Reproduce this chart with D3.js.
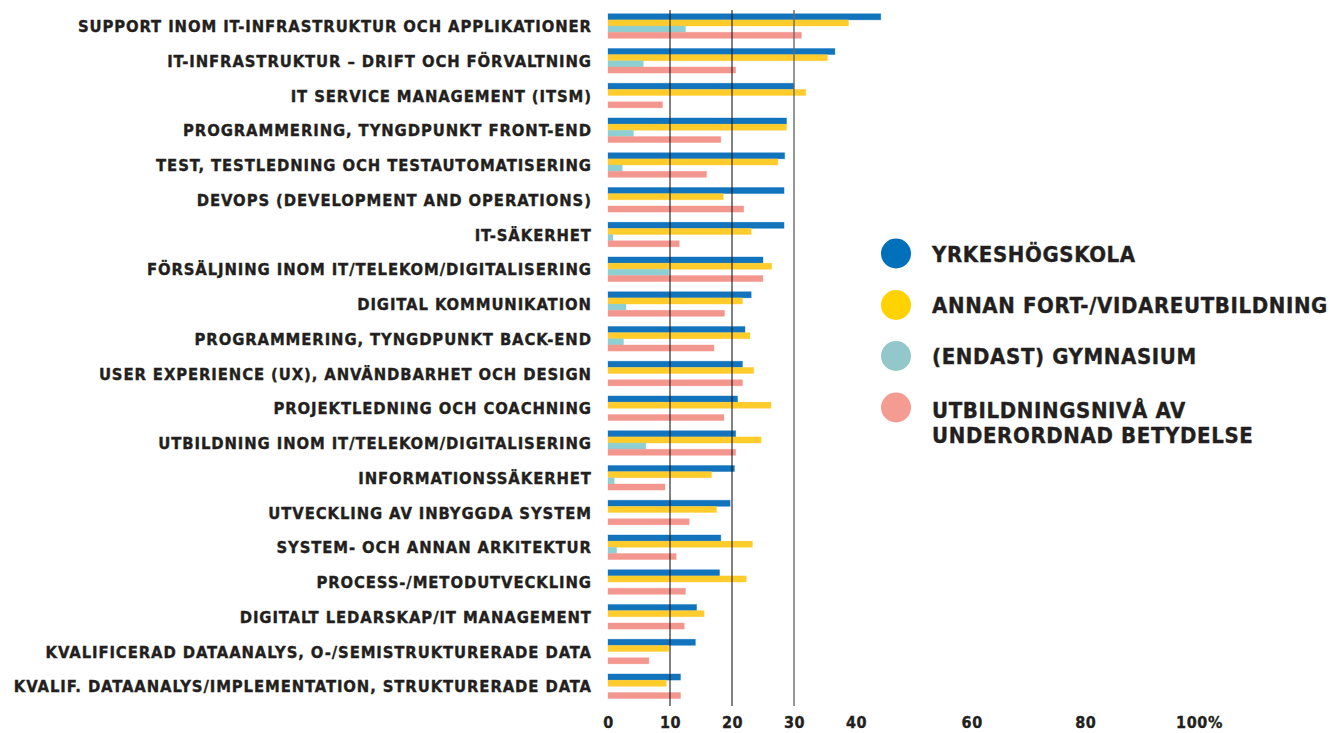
<!DOCTYPE html>
<html>
<head>
<meta charset="utf-8">
<script src="https://cdn.jsdelivr.net/npm/d3@7"></script>
<style>
  html, body { margin: 0; padding: 0; background: #fff; }
  svg { display: block; }
  text { font-family: "DejaVu Sans Condensed", "DejaVu Sans", sans-serif; font-stretch: condensed; font-weight: bold; fill: #231f20; stroke: #231f20; stroke-width: 0.35px; }
</style>
</head>
<body>
<svg id="chart" width="1330" height="733"></svg>
<script>
const categories = [
  "SUPPORT INOM IT-INFRASTRUKTUR OCH APPLIKATIONER",
  "IT-INFRASTRUKTUR – DRIFT OCH FÖRVALTNING",
  "IT SERVICE MANAGEMENT (ITSM)",
  "PROGRAMMERING, TYNGDPUNKT FRONT-END",
  "TEST, TESTLEDNING OCH TESTAUTOMATISERING",
  "DEVOPS (DEVELOPMENT AND OPERATIONS)",
  "IT-SÄKERHET",
  "FÖRSÄLJNING INOM IT/TELEKOM/DIGITALISERING",
  "DIGITAL KOMMUNIKATION",
  "PROGRAMMERING, TYNGDPUNKT BACK-END",
  "USER EXPERIENCE (UX), ANVÄNDBARHET OCH DESIGN",
  "PROJEKTLEDNING OCH COACHNING",
  "UTBILDNING INOM IT/TELEKOM/DIGITALISERING",
  "INFORMATIONSSÄKERHET",
  "UTVECKLING AV INBYGGDA SYSTEM",
  "SYSTEM- OCH ANNAN ARKITEKTUR",
  "PROCESS-/METODUTVECKLING",
  "DIGITALT LEDARSKAP/IT MANAGEMENT",
  "KVALIFICERAD DATAANALYS, O-/SEMISTRUKTURERADE DATA",
  "KVALIF. DATAANALYS/IMPLEMENTATION, STRUKTURERADE DATA"
];

const seriesNames = [
  "YRKESHÖGSKOLA",
  "ANNAN FORT-/VIDAREUTBILDNING",
  "(ENDAST) GYMNASIUM",
  "UTBILDNINGSNIVÅ AV\nUNDERORDNAD BETYDELSE"
];

const yrkeshogskola = [44.0, 36.6, 30.0, 28.8, 28.5, 28.4, 28.4, 25.0, 23.1, 22.1, 21.7, 20.9, 20.6, 20.4, 19.7, 18.2, 18.0, 14.3, 14.1, 11.7];
const annanFortVidare = [38.8, 35.4, 31.9, 28.8, 27.4, 18.6, 23.1, 26.4, 21.7, 22.9, 23.5, 26.3, 24.7, 16.7, 17.5, 23.3, 22.3, 15.5, 9.8, 9.4];
const endastGymnasium = [12.5, 5.7, 0, 4.1, 2.3, 0, 0.8, 9.8, 2.9, 2.5, 0, 0, 6.1, 1.0, 0, 1.4, 0, 0, 0, 0];
const underordnad = [31.2, 20.6, 8.8, 18.2, 15.9, 21.9, 11.5, 25.0, 18.8, 17.1, 21.7, 18.7, 20.6, 9.2, 13.1, 11.0, 12.5, 12.3, 6.6, 11.7];

const tickValues = [0, 10, 20, 30, 40, 60, 80, 100];
const tickLabels = ["0", "10", "20", "30", "40", "60", "80", "100%"];
const gridValues = [10, 20, 30];

const barColors = ["#1174BD", "#FFCC2C", "#8ECFD1", "#F3978E"];
const legendColors = ["#0070BA", "#FFD200", "#92C8CB", "#F49B92"];

const seriesValues = [yrkeshogskola, annanFortVidare, endastGymnasium, underordnad];

const svg = d3.select("#chart");

const x = d3.scaleLinear().domain([0, 44, 100]).range([608, 880.8, 1199]);

const step = 34.75, pInner = 0.29, pOuter = 0.145;
const yStart = 13.7 - pOuter * step;
const y = d3.scaleBand()
  .domain(categories)
  .range([yStart, yStart + categories.length * step])
  .paddingInner(pInner)
  .paddingOuter(pOuter);

const ySub = d3.scaleBand().domain(d3.range(seriesValues.length)).range([0, y.bandwidth()]);

const groups = svg.append("g").selectAll("g")
  .data(categories)
  .join("g")
  .attr("transform", d => `translate(0,${y(d)})`);

groups.selectAll("rect")
  .data((d, i) => seriesValues.map((s, k) => ({ k, v: s[i] })).filter(e => e.v > 0))
  .join("rect")
  .attr("x", x(0))
  .attr("y", e => ySub(e.k))
  .attr("width", e => x(e.v) - x(0))
  .attr("height", ySub.bandwidth())
  .attr("fill", e => barColors[e.k])
  .attr("stroke", e => barColors[e.k])
  .attr("stroke-opacity", 0.35)
  .attr("stroke-width", 0.8);

const gridTop = 10, gridBottom = 706;
svg.append("g").selectAll("line")
  .data(gridValues)
  .join("line")
  .attr("x1", d => x(d)).attr("x2", d => x(d))
  .attr("y1", gridTop).attr("y2", gridBottom)
  .attr("stroke", d => d === 30 ? "#6a6a6a" : "#1a1a1a")
  .attr("stroke-width", d => d === 30 ? 1.4 : 1.1);

function fitSpacing(sel, target) {
  const node = sel.node();
  const w0 = node.getComputedTextLength();
  const n = node.textContent.length;
  return (target - w0) / n;
}

const labelFont = 16.5;
const probe = svg.append("text").attr("font-size", labelFont).text(categories[0]);
const ls = fitSpacing(probe, 514);
probe.remove();

svg.append("g").selectAll("text")
  .data(categories)
  .join("text")
  .attr("x", 591 + ls)
  .attr("y", d => y(d) + y.bandwidth() / 2)
  .attr("dy", "0.37em")
  .attr("text-anchor", "end")
  .attr("font-size", labelFont)
  .attr("letter-spacing", ls)
  .text(d => d);

const axis = d3.axisBottom(x).tickValues(tickValues).tickFormat((d, i) => tickLabels[i]).tickSize(0).tickPadding(0);
const axG = svg.append("g").attr("transform", "translate(0,0)").call(axis);
axG.select(".domain").remove();
axG.selectAll("text")
  .attr("y", 728)
  .attr("dy", null)
  .attr("font-size", 16)
  .attr("font-family", "'DejaVu Sans Condensed', 'DejaVu Sans', sans-serif")
  .attr("font-weight", "bold")
  .attr("fill", "#231f20")
  .attr("letter-spacing", 0.6);

const legendFont = 22;
const probe2 = svg.append("text").attr("font-size", legendFont).text(seriesNames[1]);
const ls2 = fitSpacing(probe2, 396);
probe2.remove();

const legendY = [253.5, 305, 356, 407.5];
const leg = svg.append("g").selectAll("g")
  .data(seriesNames)
  .join("g")
  .attr("transform", (d, i) => `translate(896,${legendY[i]})`);
leg.append("circle").attr("r", 15).attr("fill", (d, i) => legendColors[i]);
leg.each(function(d) {
  const lines = d.split("\n");
  const t = d3.select(this).append("text")
    .attr("x", 36)
    .attr("font-size", legendFont)
    .attr("letter-spacing", ls2);
  lines.forEach((ln, j) => {
    t.append("tspan")
      .attr("x", 36)
      .attr("y", (lines.length > 1 ? 2.5 : 0) + j * 25)
      .attr("dy", "0.37em")
      .text(ln);
  });
});
</script>
</body>
</html>
